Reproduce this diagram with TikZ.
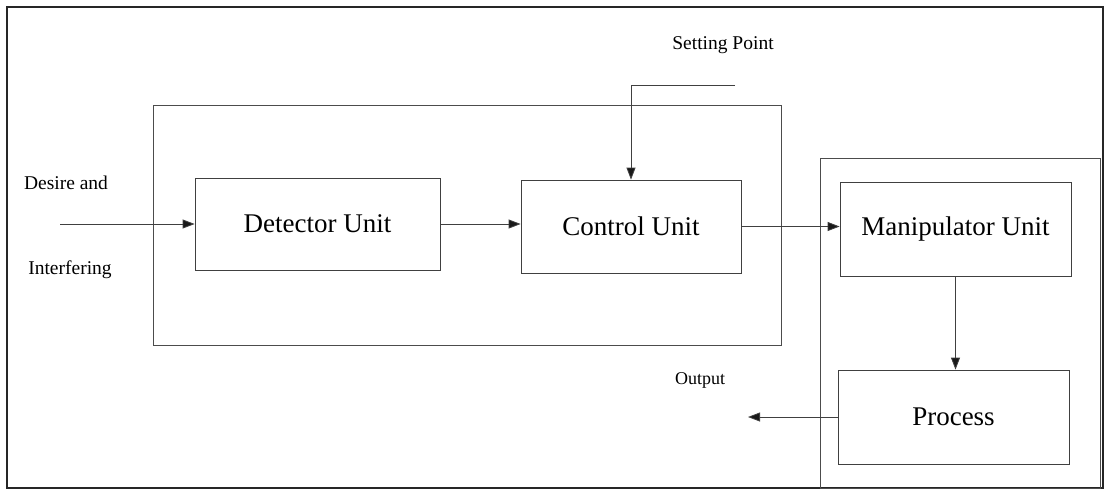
\documentclass[tikz,border=0pt]{standalone}
\usepackage{fontspec}
\setmainfont{Liberation Serif}
\usetikzlibrary{positioning, arrows.meta}
\tikzset{
  unitbox/.style={draw=black!75, line width=0.8pt, inner sep=0pt, font=\fontsize{27}{31}\selectfont},
  groupbox/.style={draw=black!70, line width=0.8pt, inner sep=0pt},
  lbl/.style={font=\fontsize{19.5}{23}\selectfont},
  flow/.style={-{Triangle[length=12pt,width=9pt,fill=black!90]}, line width=0.8pt, draw=black!75}
}

\begin{document}
\begin{tikzpicture}[x=1pt, y=-1pt]
  \useasboundingbox (0,0) rectangle (1114,491);
  % outer frame and the two groups
  \node[draw=black!85, line width=1.2pt, minimum width=1096, minimum height=481] (frame) at (555,247.5) {};
  \node[groupbox, minimum width=628, minimum height=240] (sense) at (467,225) {};
  \node[groupbox, minimum width=280, minimum height=330] (plant) at (960,323) {};

  % units
  \node[unitbox, minimum width=245, minimum height=92] (detector) at (317.5,224) {Detector Unit};
  \node[unitbox, minimum width=220, minimum height=93] (control) at (631,226.5) {Control Unit};
  \node[unitbox, minimum width=231, minimum height=94] (manip) at (955.5,229) {Manipulator Unit};
  \node[unitbox, minimum width=231, minimum height=94] (process) at (953.5,417) {Process};

  % labels
  \node[lbl] (desire) at (66,183) {Desire and};
  \node[lbl] (interf) at (70,270) {Interfering};
  \node[lbl] (setpt) at (723,45) {Setting Point};
  \node[lbl, font=\fontsize{18}{21}\selectfont] (output) at (700,380) {Output};

  \coordinate (in) at (60,224);
  \coordinate (sp) at (735,85);
  \coordinate (out) at (748,417);

  % signal flow
  \draw[flow] (in) -- (detector.west |- in);
  \draw[flow] (detector.east) -- (detector.east -| control.west);
  \draw[flow] (control.east) -- (control.east -| manip.west);
  \draw[flow] (manip.south) -- (manip.south |- process.north);
  \draw[flow] (process.west) -- (out);
  \draw[flow] (sp) -| (control.north);
\end{tikzpicture}
\end{document}
